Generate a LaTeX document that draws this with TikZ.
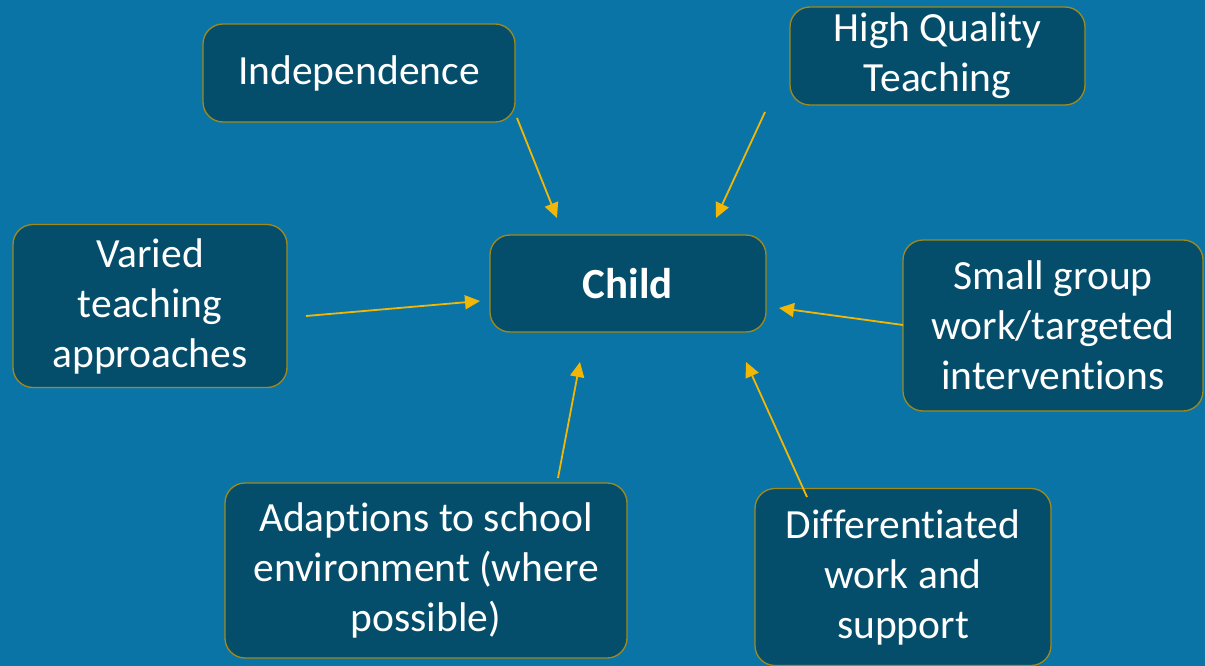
\documentclass[tikz,border=0pt]{standalone}
\usepackage{fontspec}
\setmainfont{Carlito}[Ligatures=NoCommon]
\usetikzlibrary{arrows.meta}
\definecolor{bg}{HTML}{0A74A6}
\definecolor{boxfill}{HTML}{044E6B}
\definecolor{boxline}{HTML}{A08A1C}
\definecolor{arr}{HTML}{F2B705}
\tikzset{
  box/.style={draw=boxline, fill=boxfill, line width=1.3pt, rounded corners=20pt,
    text=white, align=center, inner sep=0pt,
    font=\fontsize{41.5}{50}\selectfont},
  conn/.style={draw=arr, line width=1.8pt, -{Triangle[length=15pt,width=14pt]}}
}
\begin{document}
\begin{tikzpicture}[x=1pt,y=-1pt]
\fill[bg] (0,0) rectangle (1205,666);
\useasboundingbox (0,0) rectangle (1205,666);
\node[box, minimum width=312pt, minimum height=98pt] (ind) at (359,73) {Independence};
\node[box, minimum width=295pt, minimum height=98pt] (hqt) at (937.5,56) {High Quality\\Teaching};
\node[box, minimum width=274pt, minimum height=163pt] (var) at (150,306) {Varied\\teaching\\approaches};
\node[box, minimum width=276pt, minimum height=97pt, font=\fontsize{43}{50}\selectfont\bfseries] (child) at (628,283.5) {Child};
\node[box, minimum width=300pt, minimum height=171pt] (small) at (1053,325.5) {Small group\\work/targeted\\interventions};
\node[box, minimum width=402pt, minimum height=175pt] (adapt) at (426,570.5) {Adaptions to school\\environment (where\\possible)};
\node[box, minimum width=296pt, minimum height=177pt] (diff) at (903,577) {Differentiated\\work and\\support};
\coordinate (s1) at (517,118); \coordinate (e1) at (557,218);
\coordinate (s2) at (765,112); \coordinate (e2) at (716,218);
\coordinate (s3) at (306,316); \coordinate (e3) at (480,301);
\coordinate (s4) at (903,325); \coordinate (e4) at (779,308);
\coordinate (s5) at (558,478); \coordinate (e5) at (580,362);
\coordinate (s6) at (807,497); \coordinate (e6) at (746,362);
\draw[conn] (s1) -- (e1);
\draw[conn] (s2) -- (e2);
\draw[conn] (s3) -- (e3);
\draw[conn] (s4) -- (e4);
\draw[conn] (s5) -- (e5);
\draw[conn] (s6) -- (e6);
\end{tikzpicture}
\end{document}
